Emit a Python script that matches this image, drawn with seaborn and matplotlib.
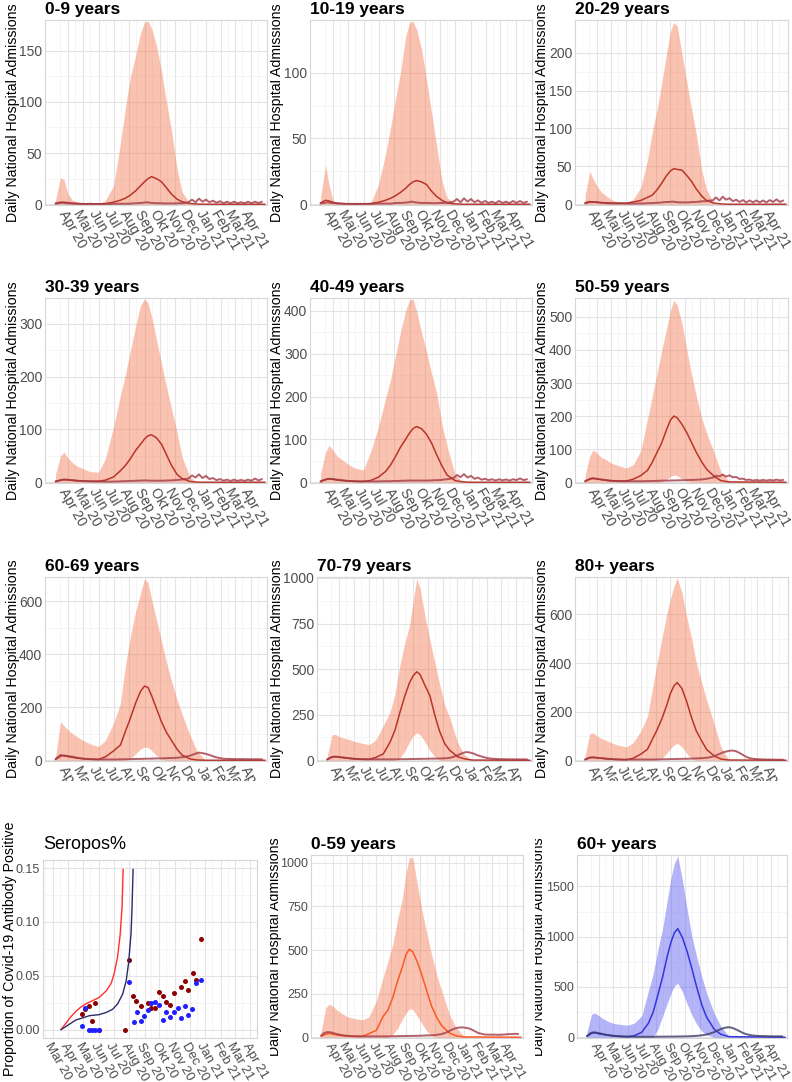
import numpy as np
import pandas as pd
import matplotlib
matplotlib.use('Agg')
import matplotlib.pyplot as plt
from matplotlib.transforms import Bbox, TransformedBbox
import seaborn as sns

# ---- time grids ----
model_dates = pd.to_datetime([
    '2020-03-07', '2020-03-17', '2020-03-24', '2020-04-01', '2020-04-10', '2020-04-20',
    '2020-05-01', '2020-05-15', '2020-06-01', '2020-06-15', '2020-07-01', '2020-07-15',
    '2020-07-25', '2020-08-04', '2020-08-14', '2020-08-24', '2020-09-01', '2020-09-08',
    '2020-09-15', '2020-09-25', '2020-10-05', '2020-10-15', '2020-10-25', '2020-11-05',
    '2020-11-15', '2020-12-01', '2020-12-15', '2021-01-01', '2021-04-30'])
obs_dates = pd.date_range('2020-03-07', periods=60, freq='7D')

month_ticks = pd.to_datetime(['2020-04-01', '2020-05-01', '2020-06-01', '2020-07-01', '2020-08-01',
                              '2020-09-01', '2020-10-01', '2020-11-01', '2020-12-01', '2021-01-01',
                              '2021-02-01', '2021-03-01', '2021-04-01'])
month_labels = ['Apr 20', 'Mai 20', 'Jun 20', 'Jul 20', 'Aug 20', 'Sep 20', 'Okt 20', 'Nov 20',
                'Dec 20', 'Jan 21', 'Feb 21', 'Mar 21', 'Apr 21']
sero_ticks = pd.to_datetime(['2020-03-01']).append(month_ticks)
sero_labels = ['Mar 20'] + month_labels

# ---- model bands / medians / observed admissions ----
upper_0_9 = [4, 26, 24, 10, 4, 2, 1, 0.3, 0.3, 4, 18, 60, 95, 125, 145, 167, 178, 179, 172, 155, 130, 100, 72, 35, 12, 1, 0, 0, 0]
lower_0_9 = [0, 0, 0, 0, 0, 0, 0, 0, 0, 0, 0, 0, 0, 0, 0, 0, 0, 0, 0, 0, 0, 0, 0, 0, 0, 0, 0, 0, 0]
median_0_9 = [1, 2, 2, 1.5, 1, 0.8, 0.5, 0.3, 0.3, 0.6, 2, 4, 6, 9, 13, 18, 22, 25, 27, 25, 22, 16, 10, 5, 2.5, 0.8, 0.2, 0, 0]
obs_0_9 = [0.5, 1, 1.5, 1, 0.8, 0.5, 0.5, 0.3, 0.3, 0.3, 0.5, 0.3, 0.3, 0.3, 0.3, 0.3, 0.3, 0.5, 0.5, 0.5,
           0.5, 0.5, 0.8, 1, 1.2, 1.5, 2, 1.5, 1.2, 1, 1, 0.8, 0.8, 0.8, 0.8, 1, 1, 1.2,
           2, 4.5, 2, 5.5, 2.5, 4.5, 2, 3.5, 1.5, 3, 1, 2.5, 1, 2.5, 1, 2, 1, 2.5, 1, 2.5, 1.2, 2.5]

upper_10_19 = [5, 30, 15, 3, 0.5, 0, 0, 0, 0, 0.5, 15, 38, 58, 80, 100, 127, 138, 139, 133, 118, 95, 70, 45, 18, 5, 0.5, 0, 0, 0]
lower_10_19 = [0, 0, 0, 0, 0, 0, 0, 0, 0, 0, 0, 0, 0, 0, 0, 0, 0, 0, 0, 0, 0, 0, 0, 0, 0, 0, 0, 0, 0]
median_10_19 = [1, 3, 2.5, 1.5, 0.8, 0.5, 0.3, 0.2, 0.2, 0.5, 1.5, 3, 4.5, 6.5, 9, 12, 15, 17, 18, 17, 15, 10, 6, 3, 1, 0.3, 0, 0, 0]
obs_10_19 = [0.5, 1, 1.5, 1, 0.8, 0.5, 0.5, 0.3, 0.3, 0.3, 0.3, 0.3, 0.3, 0.3, 0.3, 0.3, 0.5, 0.5, 0.5, 0.5,
             0.5, 0.8, 1, 1, 1.2, 1.5, 2, 1.5, 1.2, 1, 1, 1, 0.8, 0.8, 1, 1, 1.2, 1.5,
             2, 4, 1.5, 4.5, 2, 4, 1.5, 3, 1, 2.5, 1, 2, 0.8, 2.5, 1, 2, 0.8, 2.5, 1, 2.5, 1, 2]

upper_20_29 = [12, 43, 33, 24, 16, 11, 6, 3, 2, 6, 22, 58, 95, 125, 160, 200, 228, 240, 235, 198, 162, 125, 92, 45, 20, 0.5, 0, 0, 0]
lower_20_29 = [0, 0, 0, 0, 0, 0, 0, 0, 0, 0, 0, 0, 0, 0, 0, 0, 0, 0, 0, 0, 0, 0, 0, 0, 0, 0, 0, 0, 0]
median_20_29 = [2, 3.5, 3, 2.5, 2, 2, 1.5, 1.5, 1.5, 3, 5, 9, 12, 19, 28, 38, 44, 47, 46, 45, 38, 30, 20, 11, 5, 1.5, 0.5, 0, 0]
obs_20_29 = [1, 2.5, 3, 3, 2.5, 2, 1.5, 1.2, 1, 1, 1, 1, 0.8, 0.8, 0.8, 1, 1, 1, 1.2, 1.5,
             1.5, 2, 2, 2.5, 3, 3, 3.5, 3, 2.5, 2.5, 2.5, 2.5, 3, 3, 3.5, 4, 4, 5,
             5, 9, 5, 10, 6, 8, 4, 6, 3, 5.5, 2.5, 5, 2.5, 5, 2.5, 5, 2.5, 5.5, 3, 6.5, 3, 5]

upper_30_39 = [15, 50, 57, 46, 37, 30, 26, 20, 19, 45, 105, 165, 205, 250, 295, 335, 347, 340, 315, 270, 225, 180, 140, 95, 48, 10, 0, 0, 0]
lower_30_39 = [0, 0, 0, 0, 0, 0, 0, 0, 0, 0, 0, 0, 0, 0, 0, 0, 0, 0, 0, 0, 0, 0, 0, 0, 0, 0, 0, 0, 0]
median_30_39 = [2, 4, 5, 4.5, 3.5, 3, 2.5, 2, 2, 4, 10, 22, 32, 45, 60, 72, 82, 88, 90, 84, 72, 52, 32, 15, 7, 1.5, 0.3, 0, 0]
obs_30_39 = [1, 3, 5, 5, 4.5, 4, 3, 2.5, 2, 2, 1.5, 1.5, 1.5, 1.2, 1.2, 1.2, 1.2, 1.5, 1.5, 2,
             2, 2.5, 2.5, 3, 3, 3.5, 3.5, 3, 3, 3, 3, 3, 3.5, 3.5, 4, 4.5, 5, 6,
             7, 13, 9, 15, 8, 12, 6, 8, 4, 6, 3, 5, 2.5, 5, 2.5, 4.5, 2.5, 5, 3, 7, 3.5, 6]

upper_40_49 = [20, 70, 86, 75, 60, 52, 42, 33, 29, 70, 130, 195, 240, 295, 350, 400, 425, 428, 400, 350, 305, 255, 210, 135, 85, 18, 3, 0, 0]
lower_40_49 = [0, 0, 0, 0, 0, 0, 0, 0, 0, 0, 0, 0, 0, 0, 0, 0, 0, 0, 0, 0, 0, 0, 0, 0, 0, 0, 0, 0, 0]
median_40_49 = [3, 6, 8, 7, 5, 4, 3, 2, 2, 4, 12, 25, 40, 60, 82, 100, 115, 125, 130, 125, 112, 92, 65, 38, 17, 4, 1, 0, 0]
obs_40_49 = [1, 5, 8, 8, 7, 6, 5, 4, 3, 3, 2.5, 2, 2, 2, 2, 2, 2, 2, 2.5, 2.5,
             2.5, 3, 3, 3.5, 3.5, 4, 4, 4, 4, 4, 4, 4, 4.5, 5, 5, 6, 7, 8,
             10, 17, 12, 19, 11, 15, 8, 11, 6, 8, 5, 7, 4, 7, 4.5, 6.5, 4, 7, 5, 9, 5, 7]

upper_50_59 = [20, 80, 98, 88, 75, 68, 58, 50, 43, 52, 95, 190, 260, 330, 400, 465, 520, 550, 535, 480, 400, 325, 260, 195, 150, 90, 32, 3, 0]
lower_50_59 = [0, 0, 0, 0, 0, 0, 0, 0, 0, 0, 0, 0, 0, 0, 0, 8, 17, 22, 20, 10, 2, 0, 0, 0, 0, 0, 0, 0, 0]
median_50_59 = [4, 10, 12, 10, 8, 6, 5, 4, 4, 9, 20, 36, 60, 90, 120, 160, 188, 200, 195, 175, 150, 120, 90, 62, 40, 18, 5, 1, 0]
obs_50_59 = [2, 8, 12, 11, 10, 8, 7, 5, 4, 4, 3, 3, 3, 3, 3, 3, 3, 3, 3.5, 3.5,
             4, 4, 4.5, 5, 5, 5, 5.5, 5.5, 6, 6, 6.5, 7, 7, 7.5, 8, 9, 10, 12,
             14, 20, 18, 23, 17, 21, 15, 16, 10, 11, 7, 8, 5, 7, 5, 7, 5, 7, 5.5, 8, 5.5, 7]

upper_60_69 = [10, 145, 130, 115, 100, 88, 75, 62, 52, 75, 140, 215, 360, 470, 560, 630, 685, 670, 610, 530, 450, 370, 300, 230, 175, 95, 35, 0, 0]
lower_60_69 = [0, 0, 0, 0, 0, 0, 0, 0, 0, 0, 0, 0, 0, 5, 25, 42, 50, 48, 38, 18, 3, 0, 0, 0, 0, 0, 0, 0, 0]
median_60_69 = [5, 20, 17, 14, 11, 8, 6, 4, 3, 13, 35, 58, 110, 160, 215, 260, 280, 275, 245, 195, 145, 105, 75, 42, 20, 5, 1, 0, 0]
obs_60_69 = [3, 12, 18, 17, 15, 13, 10, 8, 6, 5, 4, 3.5, 3, 3, 3, 3, 3, 3, 3.5, 3.5,
             4, 4, 4.5, 5, 5, 5.5, 6, 6, 6.5, 7, 7, 7.5, 8, 8.5, 9, 10, 11, 13,
             16, 20, 25, 29, 27, 24, 20, 15, 11, 8, 6, 5, 5, 4.5, 4, 4.5, 4, 4, 4, 3.5, 4, 3.5]

upper_70_79 = [20, 140, 142, 130, 122, 115, 105, 95, 85, 110, 190, 265, 365, 520, 640, 740, 880, 995, 940, 790, 660, 540, 420, 300, 235, 100, 30, 0, 0]
lower_70_79 = [0, 0, 0, 0, 0, 0, 0, 0, 0, 0, 0, 0, 0, 12, 50, 100, 135, 150, 140, 100, 55, 20, 0, 0, 0, 0, 0, 0, 0]
median_70_79 = [5, 18, 20, 17, 14, 11, 8, 6, 5, 15, 35, 100, 165, 260, 350, 425, 465, 485, 470, 410, 355, 250, 160, 90, 55, 20, 8, 1, 0]
obs_70_79 = [3, 15, 20, 19, 17, 15, 12, 10, 8, 7, 6, 5, 5, 5, 5, 5, 5, 5, 5, 5,
             5, 5.5, 6, 6, 6.5, 7, 7, 7.5, 8, 8, 8.5, 9, 9, 9.5, 10, 11, 13, 17, 24, 32,
             40, 45, 43, 38, 30, 24, 18, 13, 10, 8, 7, 6, 6, 5.5, 5, 5, 5, 4.5, 5, 4.5]

upper_80 = [20, 110, 113, 100, 90, 82, 72, 62, 55, 72, 120, 180, 290, 400, 500, 600, 665, 715, 750, 690, 590, 500, 400, 320, 250, 150, 55, 0, 0]
lower_80 = [0, 0, 0, 0, 0, 0, 0, 0, 0, 0, 0, 0, 0, 0, 8, 28, 48, 62, 70, 55, 28, 5, 0, 0, 0, 0, 0, 0, 0]
median_80 = [4, 11, 12, 10, 8, 6, 4, 3, 2, 8, 25, 45, 85, 125, 170, 225, 275, 305, 320, 295, 240, 175, 120, 80, 45, 18, 5, 1, 0]
obs_80 = [2, 9, 12, 11, 10, 9, 7, 6, 5, 4, 3.5, 3, 3, 3, 3, 3, 3, 3, 3, 3,
          3, 3.5, 3.5, 4, 4, 4.5, 5, 5, 5.5, 6, 6, 6.5, 7, 7.5, 8, 9, 10, 12, 15, 20,
          26, 32, 36, 39, 40, 37, 30, 22, 14, 9, 6, 5, 4, 3.5, 3, 3, 2.5, 2.5, 2.5, 2]

upper_0_59 = [30, 170, 190, 178, 155, 135, 118, 108, 100, 115, 210, 343, 435, 530, 670, 790, 940, 1030, 1030, 870, 720, 590, 470, 350, 265, 130, 55, 5, 0]
lower_0_59 = [0, 0, 0, 0, 0, 0, 0, 0, 0, 0, 0, 0, 0, 15, 50, 100, 140, 162, 160, 120, 75, 35, 8, 0, 0, 0, 0, 0, 0]
median_0_59 = [5, 18, 22, 18, 13, 10, 7, 5, 5, 20, 40, 120, 155, 225, 320, 400, 475, 505, 490, 430, 350, 260, 175, 110, 65, 25, 8, 2, 0]
obs_0_59 = [10, 25, 30, 28, 22, 17, 13, 10, 8, 7, 6, 5, 5, 5, 5, 5, 5, 5, 5, 5,
            5, 5.5, 6, 6.5, 7, 7, 7.5, 8, 8, 8.5, 9, 10, 11, 11, 12, 15, 18, 24, 32, 42,
            50, 55, 57, 55, 52, 45, 35, 25, 20, 16, 15, 15, 15, 14, 15, 16, 18, 18, 20, 19]

upper_60p = [50, 230, 240, 215, 185, 160, 140, 128, 120, 140, 215, 460, 630, 870, 1080, 1370, 1590, 1730, 1800, 1560, 1270, 1000, 800, 600, 440, 240, 110, 10, 0]
lower_60p = [0, 0, 0, 0, 0, 0, 0, 0, 0, 0, 0, 0, 0, 80, 210, 340, 440, 510, 538, 450, 330, 220, 130, 60, 25, 0, 0, 0, 0]
median_60p = [10, 40, 45, 35, 28, 22, 15, 8, 5, 15, 50, 140, 250, 420, 600, 810, 950, 1040, 1080, 990, 850, 680, 500, 320, 200, 80, 30, 6, 0]
obs_60p = [10, 40, 50, 45, 38, 30, 24, 18, 14, 12, 10, 8, 7, 6, 6, 5, 5, 5, 5, 5,
           5, 5.5, 6, 6, 6.5, 7, 7, 7.5, 8, 8.5, 9, 10, 12, 14, 17, 21, 27, 35, 46, 60,
           75, 88, 97, 100, 92, 78, 62, 45, 32, 24, 18, 15, 13, 12, 11, 10, 10, 9, 10, 9]

# ---- seroprevalence panel ----
sero_red_dates = pd.to_datetime(['2020-03-17', '2020-03-27', '2020-04-06', '2020-04-16', '2020-04-26',
                                 '2020-05-06', '2020-05-20', '2020-06-02', '2020-06-16', '2020-06-26',
                                 '2020-07-02', '2020-07-09', '2020-07-14', '2020-07-18', '2020-07-20'])
sero_red_vals = [0, 0.006, 0.012, 0.017, 0.021, 0.024, 0.027, 0.030, 0.036, 0.043, 0.052, 0.068, 0.088, 0.115, 0.149]
sero_navy_dates = pd.to_datetime(['2020-03-17', '2020-03-27', '2020-04-06', '2020-04-16', '2020-04-30',
                                  '2020-05-13', '2020-06-02', '2020-06-16', '2020-06-29', '2020-07-09',
                                  '2020-07-19', '2020-07-26', '2020-07-31', '2020-08-05', '2020-08-07',
                                  '2020-08-09'])
sero_navy_vals = [0, 0.003, 0.006, 0.009, 0.011, 0.013, 0.014, 0.016, 0.019, 0.024, 0.033, 0.045, 0.062, 0.090, 0.115, 0.149]

pts_red_dates = pd.to_datetime(['2020-04-29', '2020-05-05', '2020-05-12', '2020-05-19', '2020-05-25', '2020-06-01',
                                '2020-07-23', '2020-07-31', '2020-08-08', '2020-08-15', '2020-08-24', '2020-09-07',
                                '2020-09-15', '2020-09-22', '2020-09-30', '2020-10-08', '2020-10-14', '2020-10-22',
                                '2020-10-31', '2020-11-14', '2020-11-22', '2020-11-28', '2020-12-07', '2020-12-14',
                                '2020-12-23'])
pts_red_vals = [0.0145, 0.019, 0.022, 0.008, 0.025, 0.0, 0.0, 0.065, 0.031, 0.027, 0.022, 0.025,
                0.020, 0.020, 0.035, 0.031, 0.026, 0.023, 0.034, 0.040, 0.045, 0.037, 0.053, 0.046, 0.084]
pts_blue_dates = pd.to_datetime(['2020-04-29', '2020-05-05', '2020-05-12', '2020-05-19', '2020-05-25', '2020-06-01',
                                 '2020-07-31', '2020-08-10', '2020-08-17', '2020-08-24', '2020-08-31', '2020-09-07',
                                 '2020-09-15', '2020-09-22', '2020-09-30', '2020-10-08', '2020-10-14', '2020-10-22',
                                 '2020-10-30', '2020-11-07', '2020-11-14', '2020-11-22', '2020-11-28', '2020-12-06',
                                 '2020-12-14', '2020-12-23'])
pts_blue_vals = [0.003, 0.020, 0.0, 0.0, 0.0, 0.0, 0.044, 0.007, 0.016, 0.008, 0.013, 0.018,
                 0.025, 0.026, 0.023, 0.009, 0.016, 0.012, 0.016, 0.020, 0.011, 0.022, 0.014, 0.019, 0.043, 0.046]

# ---- styling ----
sns.set_theme(style='whitegrid')
plt.rcParams['font.family'] = ['Liberation Sans', 'DejaVu Sans']

W, H = 792, 1082
fig = plt.figure(figsize=(W / 100, H / 100), dpi=100)

band_red, line_red, obs_red = '#f4683a', '#b8352b', '#a33a46'
band_blue, line_blue, obs_blue = '#5a5af0', '#3535dc', '#3a3a66'
ylab = 'Daily National Hospital Admissions'
hosp_xlim = (pd.Timestamp('2020-03-03'), pd.Timestamp('2021-05-04'))
minor_x = pd.date_range('2020-02-15', '2021-04-15', freq='SMS')
minor_x = minor_x[minor_x.day == 15]


def add_panel(rect):
    l, t, r, b = rect
    return fig.add_axes([l / W, 1 - b / H, (r - l) / W, (b - t) / H])


def clip_box(cell):
    x0, y0, x1, y1 = cell
    return TransformedBbox(Bbox.from_extents(x0 / W, 1 - y1 / H, x1 / W, 1 - y0 / H), fig.transFigure)


def style(ax, title, yticks, ylabels, ylim, xticks, xlabels, xlim, cell, ylab_right,
          ylabel=ylab, ytick_size=10, xtick_size=10, bold=True, title_size=12.5, title_pad=4):
    ax.set_xlim(xlim)
    ax.set_ylim(ylim)
    ax.set_xticks(xticks)
    ax.set_xticklabels(xlabels, rotation=-60, ha='left', va='top', rotation_mode='anchor',
                       fontsize=xtick_size, color='#4d4d4d')
    ax.set_xticks(minor_x, minor=True)
    ax.set_yticks(yticks)
    ax.set_yticklabels(ylabels, fontsize=ytick_size, color='#4d4d4d')
    ax.set_yticks([(a + b) / 2 for a, b in zip(yticks[:-1], yticks[1:])], minor=True)
    ax.grid(which='major', color='#e4e4e4', linewidth=0.8)
    ax.grid(which='minor', color='#f2f2f2', linewidth=0.5)
    ax.tick_params(which='both', length=0, pad=2)
    ax.set_axisbelow(True)
    for s in ax.spines.values():
        s.set_visible(True)
        s.set_color('#d6d6d6')
        s.set_linewidth(0.8)
    ax.set_title(title, loc='left', fontsize=title_size, pad=title_pad,
                 fontweight='bold' if bold else 'normal', color='black')
    ax.set_xlabel('')
    ax.set_ylabel(ylabel, fontsize=10.2, color='black')
    pos = ax.get_position()
    ax.yaxis.set_label_coords((ylab_right - pos.x0 * W) / (pos.width * W), 0.5)
    cb = clip_box(cell)
    for lbl in ax.get_xticklabels():
        lbl.set_clip_on(True)
        lbl.set_clip_box(cb)
    ax.yaxis.label.set_clip_on(True)
    ax.yaxis.label.set_clip_box(cb)


panels = [
    ('0-9 years', (45, 20, 267, 205), (0, 270, 0, 270), 20, upper_0_9, lower_0_9, median_0_9, obs_0_9, [0, 50, 100, 150], 180, 'red'),
    ('10-19 years', (310, 20, 532, 205), (270, 535, 0, 270), 284, upper_10_19, lower_10_19, median_10_19, obs_10_19, [0, 50, 100], 140, 'red'),
    ('20-29 years', (575, 20, 788, 205), (535, 792, 0, 270), 549, upper_20_29, lower_20_29, median_20_29, obs_20_29, [0, 50, 100, 150, 200], 243, 'red'),
    ('30-39 years', (45, 298, 267, 483), (0, 270, 270, 545), 20, upper_30_39, lower_30_39, median_30_39, obs_30_39, [0, 100, 200, 300], 349, 'red'),
    ('40-49 years', (310, 298, 532, 483), (270, 535, 270, 545), 284, upper_40_49, lower_40_49, median_40_49, obs_40_49, [0, 100, 200, 300, 400], 430, 'red'),
    ('50-59 years', (575, 298, 788, 483), (535, 792, 270, 545), 549, upper_50_59, lower_50_59, median_50_59, obs_50_59, [0, 100, 200, 300, 400, 500], 557, 'red'),
    ('60-69 years', (45, 577, 267, 761), (0, 270, 545, 781), 20, upper_60_69, lower_60_69, median_60_69, obs_60_69, [0, 200, 400, 600], 692, 'red'),
    ('70-79 years', (317, 577, 532, 761), (270, 535, 545, 781), 284, upper_70_79, lower_70_79, median_70_79, obs_70_79, [0, 250, 500, 750, 1000], 1005, 'red'),
    ('80+ years', (575, 577, 788, 761), (535, 792, 545, 781), 549, upper_80, lower_80, median_80, obs_80, [0, 200, 400, 600], 754, 'red'),
    ('0-59 years', (311, 855, 523, 1038), (270, 535, 781, 1082), 282, upper_0_59, lower_0_59, median_0_59, obs_0_59, [0, 250, 500, 750, 1000], 1045, 'orange'),
    ('60+ years', (577, 855, 787, 1038), (535, 792, 781, 1082), 546, upper_60p, lower_60p, median_60p, obs_60p, [0, 500, 1000, 1500], 1812, 'blue'),
]

for title, rect, cell, ylr, up, lo, med, obs, yt, ymax, scheme in panels:
    assert len(up) == len(lo) == len(med) == len(model_dates) and len(obs) == len(obs_dates), title
    ax = add_panel(rect)
    if scheme == 'blue':
        bc, lc, oc, alpha = band_blue, line_blue, obs_blue, 0.45
    else:
        bc, oc, alpha = band_red, obs_red, 0.40
        lc = line_red if scheme == 'red' else '#fb5a26'
    ax.fill_between(model_dates, lo, up, color=bc, alpha=alpha, linewidth=0)
    sns.lineplot(x=model_dates, y=med, ax=ax, color=lc, linewidth=1.1)
    sns.lineplot(x=obs_dates, y=obs, ax=ax, color=oc, linewidth=1.4, alpha=0.8)
    small = rect[1] > 800
    x0, x1, y0, y1 = cell
    style(ax, title, yt, [str(v) for v in yt], (-0.004 * ymax, ymax), month_ticks, month_labels,
          hosp_xlim, (x0, y0, x1, y1), ylr,
          ytick_size=9 if small else 10, xtick_size=9.5 if small else 10)

# seropositivity panel
ax = add_panel((43, 860, 257, 1038))
sns.lineplot(x=sero_red_dates, y=sero_red_vals, ax=ax, color='#ff3030', linewidth=1.0)
sns.lineplot(x=sero_navy_dates, y=sero_navy_vals, ax=ax, color='#2b2b6b', linewidth=1.0)
sns.scatterplot(x=pts_red_dates, y=pts_red_vals, ax=ax, color='#8b0000', s=13, linewidth=0)
sns.scatterplot(x=pts_blue_dates, y=pts_blue_vals, ax=ax, color='#1f1fff', s=13, linewidth=0)
style(ax, 'Seropos%', [0, 0.05, 0.10, 0.15], ['0.00', '0.05', '0.10', '0.15'], (-0.0077, 0.1575),
      sero_ticks, sero_labels, (pd.Timestamp('2020-02-10'), pd.Timestamp('2021-04-13')),
      (0, 781, 270, 1082), 17, ylabel='Proportion of Covid-19 Antibody Positive',
      ytick_size=9, xtick_size=9.5, bold=False, title_size=13, title_pad=8)

fig.savefig('out.png', dpi=100)
